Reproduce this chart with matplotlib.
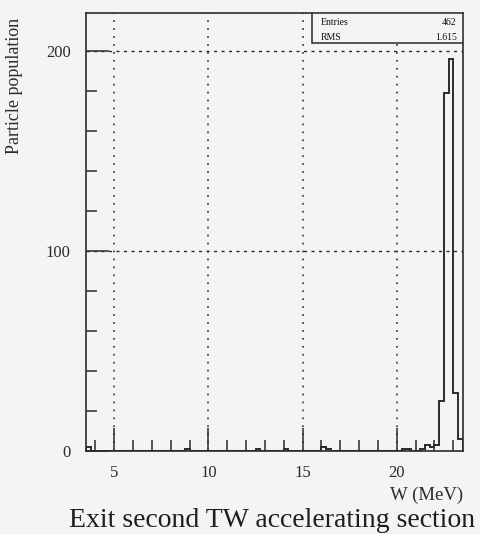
import numpy as np
import matplotlib
matplotlib.use('Agg')
import matplotlib.pyplot as plt
from matplotlib.patches import Rectangle
from matplotlib.ticker import MultipleLocator

# W spectrum at the exit of the second TW section (80 bins, 3.5 - 23.5 MeV)
bin_edges = np.linspace(3.5, 23.5, 81)
w_centres = [3.625, 8.875, 12.625, 14.125, 16.125, 16.375, 20.375, 20.625,
             21.375, 21.625, 21.875, 22.125, 22.375, 22.625, 22.875, 23.125, 23.375]
counts = [2, 1, 1, 1, 2, 1, 1, 1,
          1, 3, 2, 3, 25, 179, 196, 29, 6]

entries = 462
rms = 1.615

x_ticks = [5, 10, 15, 20]
y_ticks = [0, 100, 200]

ink = '#2b2b2b'
paper = '#f4f4f2'
plt.rcParams['font.family'] = ['Liberation Serif', 'DejaVu Serif']

fig = plt.figure(figsize=(4.8, 5.34), dpi=100, facecolor=paper)
ax = fig.add_axes([0.1792, 0.1554, 0.7848, 0.8202], facecolor=paper)

ax.hist(w_centres, bins=bin_edges, weights=counts, histtype='step',
        color=ink, lw=1.4)

ax.set_xlim(3.5, 23.5)
ax.set_ylim(0, 219)
ax.set_xticks(x_ticks)
ax.set_yticks(y_ticks)
ax.xaxis.set_minor_locator(MultipleLocator(1))
ax.yaxis.set_minor_locator(MultipleLocator(20))
ax.tick_params(which='both', direction='in', colors=ink, width=1.1,
               top=False, right=False, labelsize=12)
ax.tick_params(which='major', length=16.5)
ax.tick_params(which='minor', length=8)
ax.tick_params(axis='x', pad=10)
ax.tick_params(axis='y', pad=11)
for s in ax.spines.values():
    s.set_color(ink)
    s.set_linewidth(1.2)

# dotted verticals, short dashes for the horizontals
ax.grid(True, axis='x', which='major', color=ink, lw=1.1, linestyle=(0, (1.2, 4)))
ax.grid(True, axis='y', which='major', color=ink, lw=1.0, linestyle=(0, (2.2, 3.2)))
ax.set_axisbelow(True)

# statistics box
ax.add_patch(Rectangle((0.601, 0.9315), 0.399, 0.0685, transform=ax.transAxes,
                       fill=True, facecolor=paper, edgecolor=ink, lw=1.1, zorder=5))
ax.text(0.624, 0.9788, 'Entries', transform=ax.transAxes, fontsize=7,
        ha='left', va='center', color='#111', zorder=6)
ax.text(0.984, 0.9788, f'{entries}', transform=ax.transAxes, fontsize=7,
        ha='right', va='center', color='#111', zorder=6)
ax.text(0.624, 0.9445, 'RMS', transform=ax.transAxes, fontsize=7,
        ha='left', va='center', color='#111', zorder=6)
ax.text(0.984, 0.9445, f'{rms:.3f}', transform=ax.transAxes, fontsize=7,
        ha='right', va='center', color='#111', zorder=6)

fig.text(0.031, 0.84, 'Particle population', rotation=90, fontsize=13,
         ha='center', va='center', color=ink)
fig.text(0.964, 0.073, 'W (MeV)', fontsize=13.5, ha='right', va='center', color=ink)
fig.text(0.566, 0.026, 'Exit second TW accelerating section', fontsize=20,
         ha='center', va='center', color='#1e1e1e')

fig.savefig('out.png', dpi=100, facecolor=paper)
